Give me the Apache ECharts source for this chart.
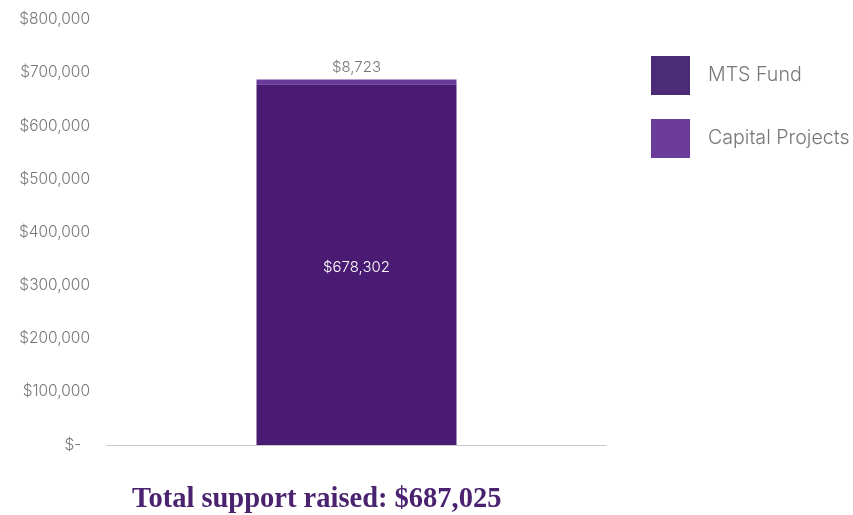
<!DOCTYPE html>
<html><head><meta charset="utf-8">
<script src="https://cdn.jsdelivr.net/npm/echarts@6/dist/echarts.min.js"></script>
<style>html,body{margin:0;padding:0;background:#fff}#c{width:853px;height:515px}</style>
</head><body><div id="c"></div>
<script>
const categories = ['Total'];
const mtsFund = [678302];
const capitalProjects = [8723];
const yTicks = [0, 100000, 200000, 300000, 400000, 500000, 600000, 700000, 800000];
const totalText = 'Total support raised: $687,025';

function fmt(v){ return v === 0 ? '$-  ' : '$' + v.toLocaleString('en-US'); }
const FONT = 'Inter';

const chart = echarts.init(document.getElementById('c'));
chart.setOption({
  animation: false,
  title: {
    text: totalText, left: 127, top: 480,
    textStyle: { fontFamily: 'Liberation Serif', fontWeight: 'bold', fontSize: 28.5, color: '#4a2270' }
  },
  legend: {
    orient: 'vertical', left: 651, top: 56, padding: 0, itemWidth: 39, itemHeight: 39, itemGap: 24,
    icon: 'rect',
    textStyle: { fontFamily: FONT, fontSize: 19.6, fontWeight: 300, color: '#777', padding: [0,0,0,13] },
    data: [{name:'MTS Fund', itemStyle:{color:'#4b2a76'}}, {name:'Capital Projects', itemStyle:{color:'#6c3c9b'}}]
  },
  grid: { left: 107, right: 247, top: 19.5, bottom: 70 },
  xAxis: {
    type: 'category', data: categories,
    axisLine: { lineStyle: { color: '#c8c8c8', width: 1 } },
    axisTick: { show: false }, axisLabel: { show: false }
  },
  yAxis: {
    type: 'value', min: 0, max: yTicks[yTicks.length-1], interval: 100000,
    axisLine: { show: false }, axisTick: { show: false }, splitLine: { show: false },
    axisLabel: { formatter: fmt, fontFamily: FONT, fontSize: 15.5, fontWeight: 300, color: '#777', margin: 17 }
  },
  series: [
    { name: 'MTS Fund', type: 'bar', stack: 't', data: mtsFund, barWidth: 200,
      itemStyle: { color: '#4a1b72' },
      label: { show: true, position: 'inside', offset: [0, 3], formatter: p => '$' + p.value.toLocaleString('en-US'),
        fontFamily: FONT, fontSize: 15, fontWeight: 300, color: '#fff' } },
    { name: 'Capital Projects', type: 'bar', stack: 't', data: capitalProjects, barWidth: 200,
      itemStyle: { color: '#6a3a9a' },
      label: { show: true, position: 'top', distance: 5, formatter: p => '$' + p.value.toLocaleString('en-US'),
        fontFamily: FONT, fontSize: 15, fontWeight: 300, color: '#777' } }
  ]
});
</script></body></html>
